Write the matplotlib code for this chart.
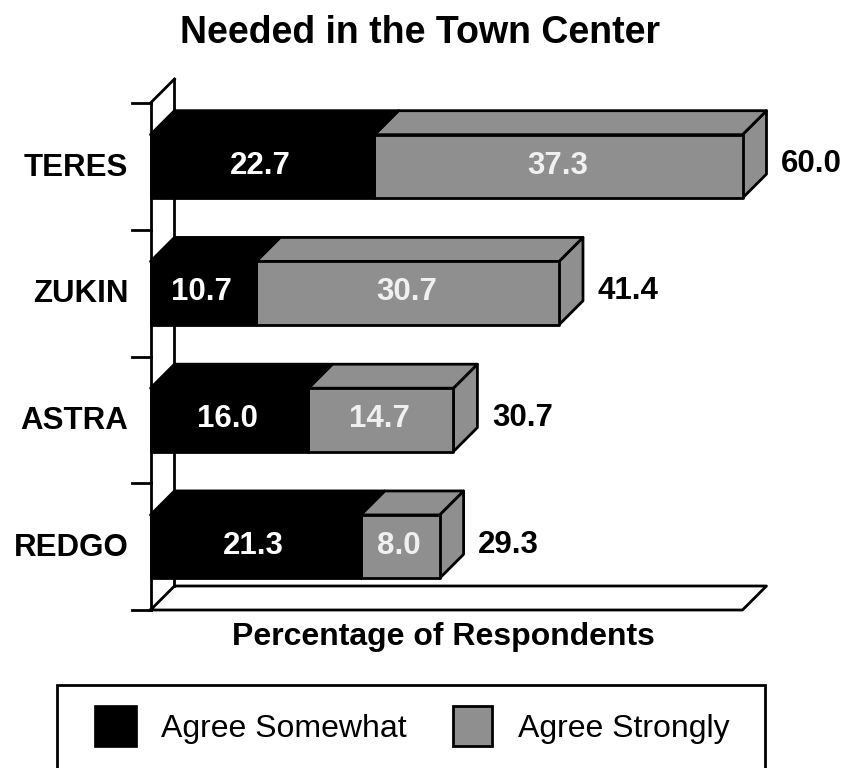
import matplotlib
matplotlib.use("Agg")
import matplotlib.pyplot as plt
from matplotlib.patches import Polygon, Rectangle

plt.rcParams['font.family'] = ['Liberation Sans', 'DejaVu Sans']

categories = ["REDGO", "ASTRA", "ZUKIN", "TERES"]
somewhat = [21.3, 16.0, 10.7, 22.7]
strongly = [8.0, 14.7, 30.7, 37.3]
totals = ["29.3", "30.7", "41.4", "60.0"]
x_max = 60.0
n_slots = 4
legend_labels = ["Agree Somewhat", "Agree Strongly"]

GREY = "#8f8f8f"
LW = 2.0
DX = 24 / 9.867
DY = 24 / 126.75
BAR_H = 0.5
OFFSET = 0.0

fig = plt.figure(figsize=(8.47, 7.68), dpi=100)
ax = fig.add_axes([150.5 / 847, (768 - 610) / 768, 592 / 847, 507 / 768])
ax.set_xlim(0, x_max)
ax.set_ylim(0, n_slots)
ax.axis("off")


def box(x0, x1, y0, y1, color, z, with_side=True):
    # front, top and (optionally) side faces of one bar segment
    front = [(x0, y0), (x1, y0), (x1, y1), (x0, y1)]
    top = [(x0, y1), (x1, y1), (x1 + DX, y1 + DY), (x0 + DX, y1 + DY)]
    side = [(x1, y0), (x1 + DX, y0 + DY), (x1 + DX, y1 + DY), (x1, y1)]
    faces = [side, top, front] if with_side else [top, front]
    for pts in faces:
        ax.add_patch(Polygon(pts, closed=True, facecolor=color, edgecolor="k",
                             lw=LW, joinstyle="round", clip_on=False, zorder=z))


# back wall and floor
ax.plot([DX, DX], [DY, n_slots + DY], color="k", lw=LW, clip_on=False, zorder=1)
ax.plot([0, 0], [0, n_slots], color="k", lw=LW, clip_on=False, zorder=1)
ax.plot([0, DX], [n_slots, n_slots + DY], color="k", lw=LW, clip_on=False, zorder=1)
ax.plot([0, DX, x_max + DX, x_max, 0], [0, DY, DY, 0, 0], color="k", lw=LW,
        clip_on=False, zorder=1)
for i in range(n_slots + 1):
    ax.plot([-1.85, 0], [i, i], color="k", lw=LW, clip_on=False, zorder=1)

for i, name in enumerate(categories):
    y0 = i + 0.5 + OFFSET - BAR_H / 2
    y1 = y0 + BAR_H
    mid = (y0 + y1) / 2
    a = somewhat[i]
    b = a + strongly[i]
    # grey behind, black has no visible side face
    box(a, b, y0, y1, GREY, 3)
    box(0, a, y0, y1, "k", 4, with_side=False)
    ax.text(a / 2 - 0.2, mid + 0.005, f"{somewhat[i]:.1f}", color="w", fontsize=22.5,
            fontweight="bold", ha="center", va="center", zorder=6)
    ax.text((a + b) / 2 - 0.1, mid + 0.005, f"{strongly[i]:.1f}", color="#f0f0f0", fontsize=22.5,
            fontweight="bold", ha="center", va="center", zorder=6)
    ax.text(b + 3.9, mid + 0.015, totals[i], color="k", fontsize=22.5, fontweight="bold",
            ha="left", va="center", zorder=6)
    ax.text(-2.25, mid - 0.01, name, color="k", fontsize=22.5, fontweight="bold",
            ha="right", va="center", zorder=6)

fig.text(420 / 847, 1 - 33 / 768, "Needed in the Town Center", fontsize=27, fontweight="bold",
         ha="center", va="center")
fig.text(443 / 847, 1 - 637 / 768, "Percentage of Respondents", fontsize=23, fontweight="bold",
         ha="center", va="center")

# legend box runs off the bottom of the picture
fig.add_artist(Rectangle((57 / 847, -0.05), 708 / 847, 1 - 685 / 768 + 0.05, transform=fig.transFigure,
                         facecolor="w", edgecolor="k", lw=LW, clip_on=False))
fig.add_artist(Rectangle((94 / 847, 1 - 747 / 768), 43 / 847, 42 / 768, transform=fig.transFigure,
                         facecolor="k", edgecolor="k", lw=0.5))
fig.add_artist(Rectangle((453 / 847, 1 - 746 / 768), 39 / 847, 40 / 768, transform=fig.transFigure,
                         facecolor=GREY, edgecolor="k", lw=LW))
fig.text(161 / 847, 1 - 729 / 768, legend_labels[0], fontsize=23, ha="left", va="center")
fig.text(518 / 847, 1 - 729 / 768, legend_labels[1], fontsize=23, ha="left", va="center")

fig.savefig("out.png", dpi=100)
